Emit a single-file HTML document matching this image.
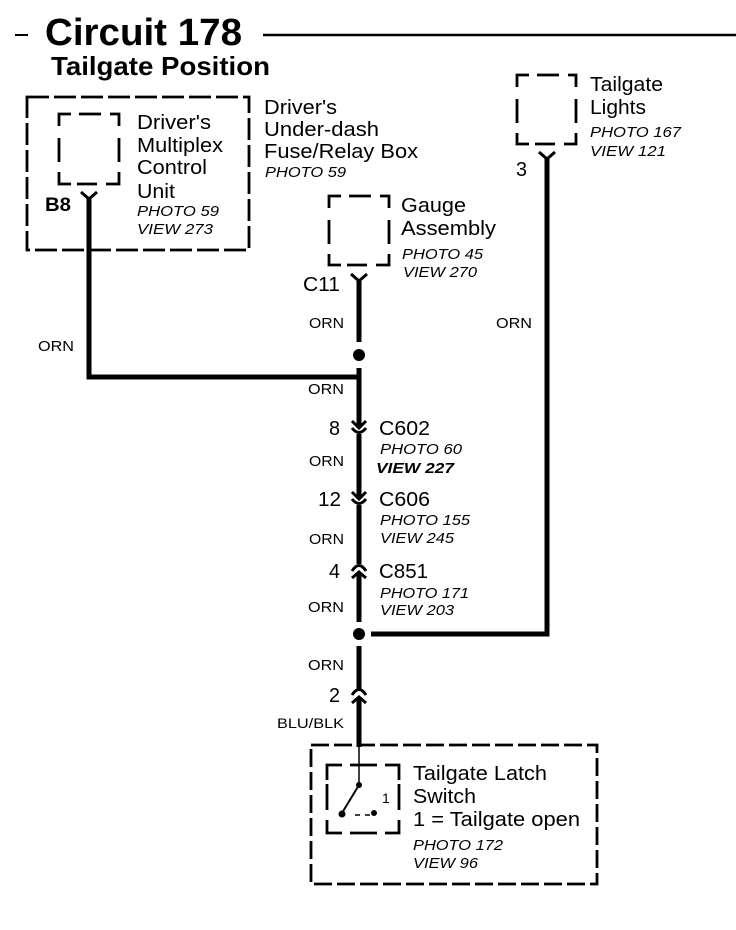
<!DOCTYPE html>
<html><head><meta charset="utf-8">
<style>
html,body{margin:0;padding:0;background:#fff}
svg{display:block}
text{font-family:"Liberation Sans",sans-serif;fill:#000}
.t{font-size:20px}
.i{font-size:15px;font-style:italic}
.w{font-size:14.5px}
.d{fill:none;stroke:#000;stroke-width:2.8}
.l{fill:none;stroke:#000;stroke-width:5}
.c{fill:none;stroke:#000;stroke-width:3}
</style></head><body>
<svg width="736" height="930" viewBox="0 0 736 930" xmlns="http://www.w3.org/2000/svg">
<rect width="736" height="930" fill="#fff"/>
<line x1="15" y1="35" x2="28" y2="35" stroke="#000" stroke-width="2"/>
<line x1="263" y1="35" x2="736" y2="35" stroke="#000" stroke-width="2.5"/>
<text x="45" y="45" style="font-size:38px;font-weight:bold" textLength="197" lengthAdjust="spacingAndGlyphs">Circuit 178</text>
<text x="51" y="75" style="font-size:26px;font-weight:bold" textLength="219" lengthAdjust="spacingAndGlyphs">Tailgate Position</text>

<!-- Multiplex unit -->
<rect class="d" x="27" y="97" width="222" height="153" stroke-dasharray="22 5"/>
<path class="d" transform="translate(59 114)" d="M0 12V0H12M20 0H42M51 0H60V12M60 24V48M60 58V70H47M38 70H18M12 70H0V58M0 48V24"/>
<text class="t" x="137" y="129" textLength="74" lengthAdjust="spacingAndGlyphs">Driver's</text>
<text class="t" x="137" y="152" textLength="86" lengthAdjust="spacingAndGlyphs">Multiplex</text>
<text class="t" x="137" y="174" textLength="70" lengthAdjust="spacingAndGlyphs">Control</text>
<text class="t" x="137" y="198" textLength="38" lengthAdjust="spacingAndGlyphs">Unit</text>
<text class="i" x="137" y="216" textLength="82" lengthAdjust="spacingAndGlyphs">PHOTO 59</text>
<text class="i" x="137" y="234" textLength="76" lengthAdjust="spacingAndGlyphs">VIEW 273</text>
<text x="45" y="211" style="font-size:19px;font-weight:bold" textLength="26" lengthAdjust="spacingAndGlyphs">B8</text>
<path class="c" d="M81 192 L89 199 L97 192"/>

<!-- Fuse box label -->
<text class="t" x="264" y="114" textLength="73" lengthAdjust="spacingAndGlyphs">Driver's</text>
<text class="t" x="264" y="136" textLength="115" lengthAdjust="spacingAndGlyphs">Under-dash</text>
<text class="t" x="264" y="158" textLength="154" lengthAdjust="spacingAndGlyphs">Fuse/Relay Box</text>
<text class="i" x="265" y="177" textLength="81" lengthAdjust="spacingAndGlyphs">PHOTO 59</text>

<!-- Gauge -->
<path class="d" transform="translate(329 196)" d="M0 12V0H12M20 0H42M51 0H60V12M60 24V48M60 58V69H47M38 69H18M12 69H0V58M0 48V24"/>
<text class="t" x="401" y="212" textLength="65" lengthAdjust="spacingAndGlyphs">Gauge</text>
<text class="t" x="401" y="235" textLength="95" lengthAdjust="spacingAndGlyphs">Assembly</text>
<text class="i" x="402" y="259" textLength="81" lengthAdjust="spacingAndGlyphs">PHOTO 45</text>
<text class="i" x="403" y="277" textLength="74" lengthAdjust="spacingAndGlyphs">VIEW 270</text>
<text class="t" x="303" y="291" textLength="37" lengthAdjust="spacingAndGlyphs">C11</text>
<path class="c" d="M351 274 L359 281 L367 274"/>

<!-- Tailgate lights -->
<path class="d" transform="translate(517 75)" d="M0 12V0H12M20 0H42M51 0H59V12M59 24V48M59 58V69H47M38 69H18M12 69H0V58M0 48V24"/>
<text class="t" x="590" y="91" textLength="73" lengthAdjust="spacingAndGlyphs">Tailgate</text>
<text class="t" x="590" y="114" textLength="56" lengthAdjust="spacingAndGlyphs">Lights</text>
<text class="i" x="590" y="137" textLength="91" lengthAdjust="spacingAndGlyphs">PHOTO 167</text>
<text class="i" x="590" y="156" textLength="76" lengthAdjust="spacingAndGlyphs">VIEW 121</text>
<text class="t" x="516" y="176" textLength="11" lengthAdjust="spacingAndGlyphs">3</text>
<path class="c" d="M539 152 L547 159 L555 152"/>

<!-- Wires -->
<path class="l" d="M89 199 V377 H359"/>
<path class="l" d="M359 281 V342"/>
<path class="l" d="M359 368 V428"/>
<path class="l" d="M359 434 V499"/>
<path class="l" d="M359 505 V564"/>
<path class="l" d="M359 573 V622"/>
<path class="l" d="M359 646 V689"/>
<path class="l" d="M359 698 V747"/>
<path class="l" d="M547 159 V634 H371"/>
<circle cx="359" cy="355" r="6" fill="#000"/>
<circle cx="359" cy="634" r="6" fill="#000"/>

<text class="w" x="38" y="351" textLength="36" lengthAdjust="spacingAndGlyphs">ORN</text>
<text class="w" x="309" y="328" textLength="35" lengthAdjust="spacingAndGlyphs">ORN</text>
<text class="w" x="496" y="328" textLength="36" lengthAdjust="spacingAndGlyphs">ORN</text>
<text class="w" x="308" y="394" textLength="36" lengthAdjust="spacingAndGlyphs">ORN</text>
<text class="w" x="309" y="466" textLength="35" lengthAdjust="spacingAndGlyphs">ORN</text>
<text class="w" x="309" y="544" textLength="35" lengthAdjust="spacingAndGlyphs">ORN</text>
<text class="w" x="308" y="612" textLength="36" lengthAdjust="spacingAndGlyphs">ORN</text>
<text class="w" x="308" y="670" textLength="36" lengthAdjust="spacingAndGlyphs">ORN</text>
<text class="w" x="277" y="728" textLength="67" lengthAdjust="spacingAndGlyphs" style="font-size:13.5px">BLU/BLK</text>

<!-- C602 -->
<text class="t" x="329" y="435" textLength="11" lengthAdjust="spacingAndGlyphs">8</text>
<path class="c" d="M352 421 L359 428 L366 421"/>
<path class="c" d="M352 428 Q359 437 366 428"/>
<text class="t" x="379" y="435" textLength="51" lengthAdjust="spacingAndGlyphs">C602</text>
<text class="i" x="380" y="454" textLength="82" lengthAdjust="spacingAndGlyphs">PHOTO 60</text>
<text class="i" x="376" y="473" textLength="78" lengthAdjust="spacingAndGlyphs" style="font-weight:bold">VIEW 227</text>

<!-- C606 -->
<text class="t" x="318" y="506" textLength="23" lengthAdjust="spacingAndGlyphs">12</text>
<path class="c" d="M352 492 L359 499 L366 492"/>
<path class="c" d="M352 499 Q359 508 366 499"/>
<text class="t" x="379" y="506" textLength="51" lengthAdjust="spacingAndGlyphs">C606</text>
<text class="i" x="380" y="525" textLength="90" lengthAdjust="spacingAndGlyphs">PHOTO 155</text>
<text class="i" x="380" y="543" textLength="74" lengthAdjust="spacingAndGlyphs">VIEW 245</text>

<!-- C851 -->
<text class="t" x="329" y="578" textLength="11" lengthAdjust="spacingAndGlyphs">4</text>
<path class="c" d="M352 571 Q359 560 366 571"/>
<path class="c" d="M352 578 L359 572 L366 578"/>
<text class="t" x="379" y="578" textLength="49" lengthAdjust="spacingAndGlyphs">C851</text>
<text class="i" x="380" y="598" textLength="89" lengthAdjust="spacingAndGlyphs">PHOTO 171</text>
<text class="i" x="380" y="615" textLength="74" lengthAdjust="spacingAndGlyphs">VIEW 203</text>

<!-- Connector 2 -->
<text class="t" x="329" y="702" textLength="11" lengthAdjust="spacingAndGlyphs">2</text>
<path class="c" d="M352 695 Q359 684 366 695"/>
<path class="c" d="M352 703 L359 697 L366 703"/>

<!-- Latch switch -->
<rect class="d" x="311" y="745" width="286" height="139" stroke-dasharray="18 5"/>
<path class="d" d="M327 780V765H342M350 765H377M385 765H399V780M399 784V810M399 820V833H385M377 833H350M342 833H327V820M327 810V784"/>
<line x1="359" y1="747" x2="359" y2="785" stroke="#000" stroke-width="1.5"/>
<line x1="359" y1="785" x2="342" y2="813" stroke="#000" stroke-width="2"/>
<circle cx="359" cy="785" r="3" fill="#000"/>
<circle cx="342" cy="814" r="3.5" fill="#000"/>
<circle cx="374" cy="813" r="3" fill="#000"/>
<path d="M355 815H360M365 815H370" stroke="#000" stroke-width="1.5"/>
<text x="382" y="803" style="font-size:14px">1</text>
<text class="t" x="413" y="780" textLength="134" lengthAdjust="spacingAndGlyphs">Tailgate Latch</text>
<text class="t" x="413" y="803" textLength="63" lengthAdjust="spacingAndGlyphs">Switch</text>
<text class="t" x="413" y="826" textLength="167" lengthAdjust="spacingAndGlyphs">1 = Tailgate open</text>
<text class="i" x="413" y="850" textLength="90" lengthAdjust="spacingAndGlyphs">PHOTO 172</text>
<text class="i" x="413" y="868" textLength="65" lengthAdjust="spacingAndGlyphs">VIEW 96</text>
</svg>
</body></html>
